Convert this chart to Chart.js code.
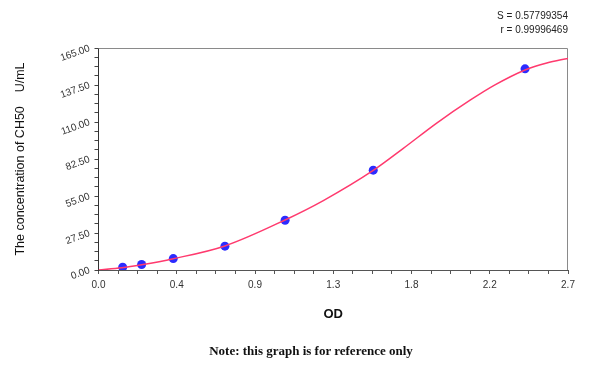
<!DOCTYPE html>
<html>
<head>
<meta charset="utf-8">
<script src="https://cdn.jsdelivr.net/npm/chart.js@4/dist/chart.umd.min.js"></script>
<style>
  html, body { margin: 0; padding: 0; background: #fff; }
  #wrap { position: relative; width: 600px; height: 366px; }
  canvas { position: absolute; left: 0; top: 0; }
  .stat { position: absolute; right: 32px; font: 10px "Liberation Sans", Arial, sans-serif; color: #222; text-align: right; }
  #note { position: absolute; left: 0; width: 622px; top: 343px; text-align: center;
          font: bold 13px "Liberation Serif", "Times New Roman", serif; color: #111; }
</style>
</head>
<body>
<div id="wrap">
  <canvas id="curveChart" width="600" height="366"></canvas>
  <div class="stat" style="top:10px">S = 0.57799354</div>
  <div class="stat" style="top:24px">r = 0.99996469</div>
  <div id="note">Note: this graph is for reference only</div>
</div>
<script>
// standard points (OD vs CH50 concentration)
const standardOD = [0.139, 0.248, 0.430, 0.727, 1.073, 1.580, 2.453];
const standardConc = [2.1, 4.1, 8.5, 17.7, 37.0, 74.2, 149.5];

// fitted curve
const fitOD = [0, 0.133, 0.248, 0.430, 0.727, 1.073, 1.293, 1.580, 1.753, 1.945, 2.137, 2.280, 2.453, 2.578, 2.70];
const fitConc = [0, 1.6, 3.9, 8.4, 17.9, 37.2, 51.6, 74.0, 90.4, 109.2, 126.2, 137.6, 148.7, 153.9, 157.3];

// axes
const xMajor = [0, 0.45, 0.9, 1.35, 1.8, 2.25, 2.7];
const xLabels = ['0.0', '0.4', '0.9', '1.3', '1.8', '2.2', '2.7'];
const yMajor = [0, 27.5, 55, 82.5, 110, 137.5, 165];
const yLabels = ['0.00', '27.50', '55.00', '82.50', '110.00', '137.50', '165.00'];

const font = { family: '"Liberation Sans", Arial, sans-serif', size: 10 };

// major ticks plus 3 minor ticks in between
function withMinor(major) {
    const out = [];
    for (let i = 0; i < major.length; i++) {
        out.push({ value: major[i] });
        if (i < major.length - 1) {
            const step = (major[i + 1] - major[i]) / 4;
            for (let k = 1; k < 4; k++) out.push({ value: major[i] + step * k });
        }
    }
    return out;
}

const frame = {
    id: 'frame',
    beforeDatasetsDraw(chart) {
        const a = chart.chartArea, c = chart.ctx;
        c.save();
        c.strokeStyle = '#8a8a8a';
        c.lineWidth = 1;
        c.beginPath();
        c.moveTo(a.left, a.top + 0.5);
        c.lineTo(a.right - 0.5, a.top + 0.5);
        c.lineTo(a.right - 0.5, a.bottom);
        c.stroke();
        c.restore();
    }
};

new Chart(document.getElementById('curveChart').getContext('2d'), {
    type: 'scatter',
    data: {
        datasets: [{
            label: 'fit',
            type: 'line',
            data: fitOD.map((x, i) => ({ x: x, y: fitConc[i] })),
            borderColor: '#ff3a6e',
            borderWidth: 1.5,
            pointRadius: 0,
            cubicInterpolationMode: 'monotone',
            fill: false
        }, {
            label: 'standards',
            data: standardOD.map((x, i) => ({ x: x, y: standardConc[i] })),
            backgroundColor: '#2b2bff',
            borderWidth: 0,
            pointRadius: 4.5
        }]
    },
    options: {
        responsive: false,
        animation: false,
        layout: { padding: { left: 0, top: 48, right: 32, bottom: 35 } },
        plugins: { legend: { display: false }, tooltip: { enabled: false } },
        scales: {
            x: {
                type: 'linear',
                min: 0, max: 2.7,
                afterBuildTicks: s => { s.ticks = withMinor(xMajor); },
                afterFit: s => { s.height = 61; },
                ticks: {
                    autoSkip: false, maxRotation: 0, padding: 5, color: '#333', font: font,
                    callback: (v, i) => i % 4 === 0 ? xLabels[i / 4] : ''
                },
                grid: { drawOnChartArea: false, tickLength: 4, tickColor: '#555' },
                border: { color: '#555' },
                title: {
                    display: true, text: 'OD', color: '#111',
                    font: { family: '"Liberation Sans", Arial, sans-serif', size: 13, weight: 'bold' },
                    padding: { top: 0, bottom: 9 }
                }
            },
            y: {
                type: 'linear',
                min: 0, max: 165,
                afterBuildTicks: s => { s.ticks = withMinor(yMajor); },
                afterFit: s => { s.width = 98.5; },
                ticks: {
                    autoSkip: false, minRotation: 20, maxRotation: 20, padding: 5, color: '#333', font: font,
                    callback: (v, i) => i % 4 === 0 ? yLabels[i / 4] : ''
                },
                grid: { drawOnChartArea: false, tickLength: 4, tickColor: '#444' },
                border: { color: '#333' },
                title: {
                    display: true, text: 'The concentration of CH50    U/mL', color: '#111',
                    font: { family: '"Liberation Sans", Arial, sans-serif', size: 12.5 },
                    padding: { top: 13, bottom: 0 }
                }
            }
        }
    },
    plugins: [frame]
});
</script>
</body>
</html>
